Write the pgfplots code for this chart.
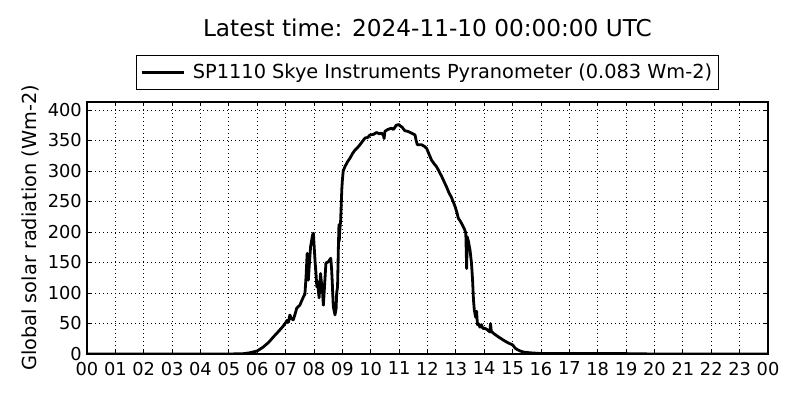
\documentclass[border=0pt]{standalone}
\usepackage{pgfplots}
\pgfplotsset{compat=1.18}
\usepackage{fontspec}
\setmainfont{DejaVu Sans}
\begin{document}
\begin{tikzpicture}
\useasboundingbox (0,0) rectangle (600bp,300bp);
\begin{axis}[
  at={(65.25bp,34.5bp)}, anchor=south west,
  scale only axis, width=510.75bp, height=189bp,
  xmin=0, xmax=24, ymin=0, ymax=413,
  xtick={0,1,...,24},
  xticklabels={00,01,02,03,04,05,06,07,08,09,10,11,12,13,14,15,16,17,18,19,20,21,22,23,00},
  ytick={0,50,...,400},
  /pgf/number format/assume math mode=true,
  tick label style={font=\fontsize{13.35bp}{15bp}\selectfont, inner sep=0pt},
  xticklabel style={anchor=north, yshift=-5.8bp},
  yticklabel style={anchor=east, xshift=-3.75bp},
  tick align=inside, tick pos=both,
  major tick length=3bp,
  every tick/.style={black, line width=0.6bp},
  axis line style={black, line width=1bp},
  grid=major,
  major grid style={black, line width=0.6bp, dash pattern=on 0.75bp off 2.25bp},
  ylabel={Global solar radiation (Wm-2)},
  ylabel style={font=\fontsize{14.5bp}{17bp}\selectfont, at={(axis description cs:-0.0837,0.5)}, anchor=center, inner sep=0pt},
  title={Latest time: 2024-11-10 00:00:00 UTC},
  title style={font=\fontsize{17.4bp}{20bp}\selectfont, at={(axis description cs:0.5,1.23)}, anchor=base, inner sep=0pt},
  legend style={at={(axis description cs:0.5,1)}, anchor=south, yshift=9bp,
    draw=black, line width=0.75bp, font=\fontsize{14.5bp}{17bp}\selectfont,
    inner xsep=3bp, inner ysep=4.5bp, row sep=0pt},
  legend cell align=left,
  legend image code/.code={\draw[#1] (0bp,0bp) -- (31.5bp,0bp);},
]
\addplot[black, line width=2.1bp, line join=round] coordinates {
(0,0) (5.0,0) (5.5,0.5) (5.74,2) (6.0,5) (6.2,11) (6.4,19) (6.57,28) (6.75,37)
(6.9,45) (6.98,50) (7.05,55) (7.1,52) (7.15,64) (7.2,58) (7.27,56) (7.35,68)
(7.39,75) (7.5,80) (7.63,94) (7.68,98) (7.72,127) (7.76,165) (7.8,121) (7.84,150)
(7.88,176) (7.95,195) (7.98,198) (8.0,181) (8.04,150) (8.07,132) (8.1,110) (8.12,119)
(8.18,92) (8.23,132) (8.26,118) (8.29,110) (8.33,80) (8.37,110) (8.42,149)
(8.5,151) (8.59,157) (8.62,140) (8.64,121) (8.68,78) (8.74,64) (8.78,75) (8.8,100)
(8.83,110) (8.86,176) (8.88,212) (8.89,185) (8.91,203) (8.94,220) (8.96,245)
(8.98,270) (9.0,285) (9.03,300) (9.09,307) (9.18,315) (9.27,321) (9.35,328)
(9.44,334) (9.53,338) (9.62,343) (9.7,348) (9.8,354) (9.9,355) (9.97,359)
(10.1,360) (10.2,363) (10.3,361) (10.38,362) (10.45,358) (10.47,353) (10.5,365)
(10.6,368) (10.73,370) (10.8,368) (10.9,375) (11.0,376) (11.03,374) (11.1,372)
(11.2,366) (11.3,365) (11.44,362) (11.56,359) (11.6,350) (11.64,343) (11.79,343)
(11.9,340) (11.97,337) (12.05,328) (12.14,318) (12.23,312) (12.32,307) (12.4,300)
(12.5,291) (12.58,283) (12.67,274) (12.75,265) (12.85,256) (12.92,248) (12.97,242)
(13.03,233) (13.09,222) (13.14,219) (13.2,214) (13.3,205) (13.35,198) (13.37,160)
(13.38,140) (13.4,192) (13.44,185) (13.5,170) (13.55,149) (13.59,120) (13.62,89)
(13.65,72) (13.67,67) (13.7,60) (13.73,70) (13.76,48) (13.79,50) (13.85,44)
(13.9,48) (13.95,42) (14.03,42) (14.1,40) (14.15,38) (14.2,36) (14.22,50)
(14.25,37) (14.35,33) (14.5,28) (14.7,22) (14.85,18) (15.0,15) (15.1,9)
(15.26,5) (15.4,3) (15.6,2) (16.0,0.8) (17,0.8) (19,0.6) (20,0) (24,0)
};
\addlegendentry{\hspace*{4bp}SP1110 Skye Instruments Pyranometer (0.083 Wm-2)}
\end{axis}
\end{tikzpicture}
\end{document}
